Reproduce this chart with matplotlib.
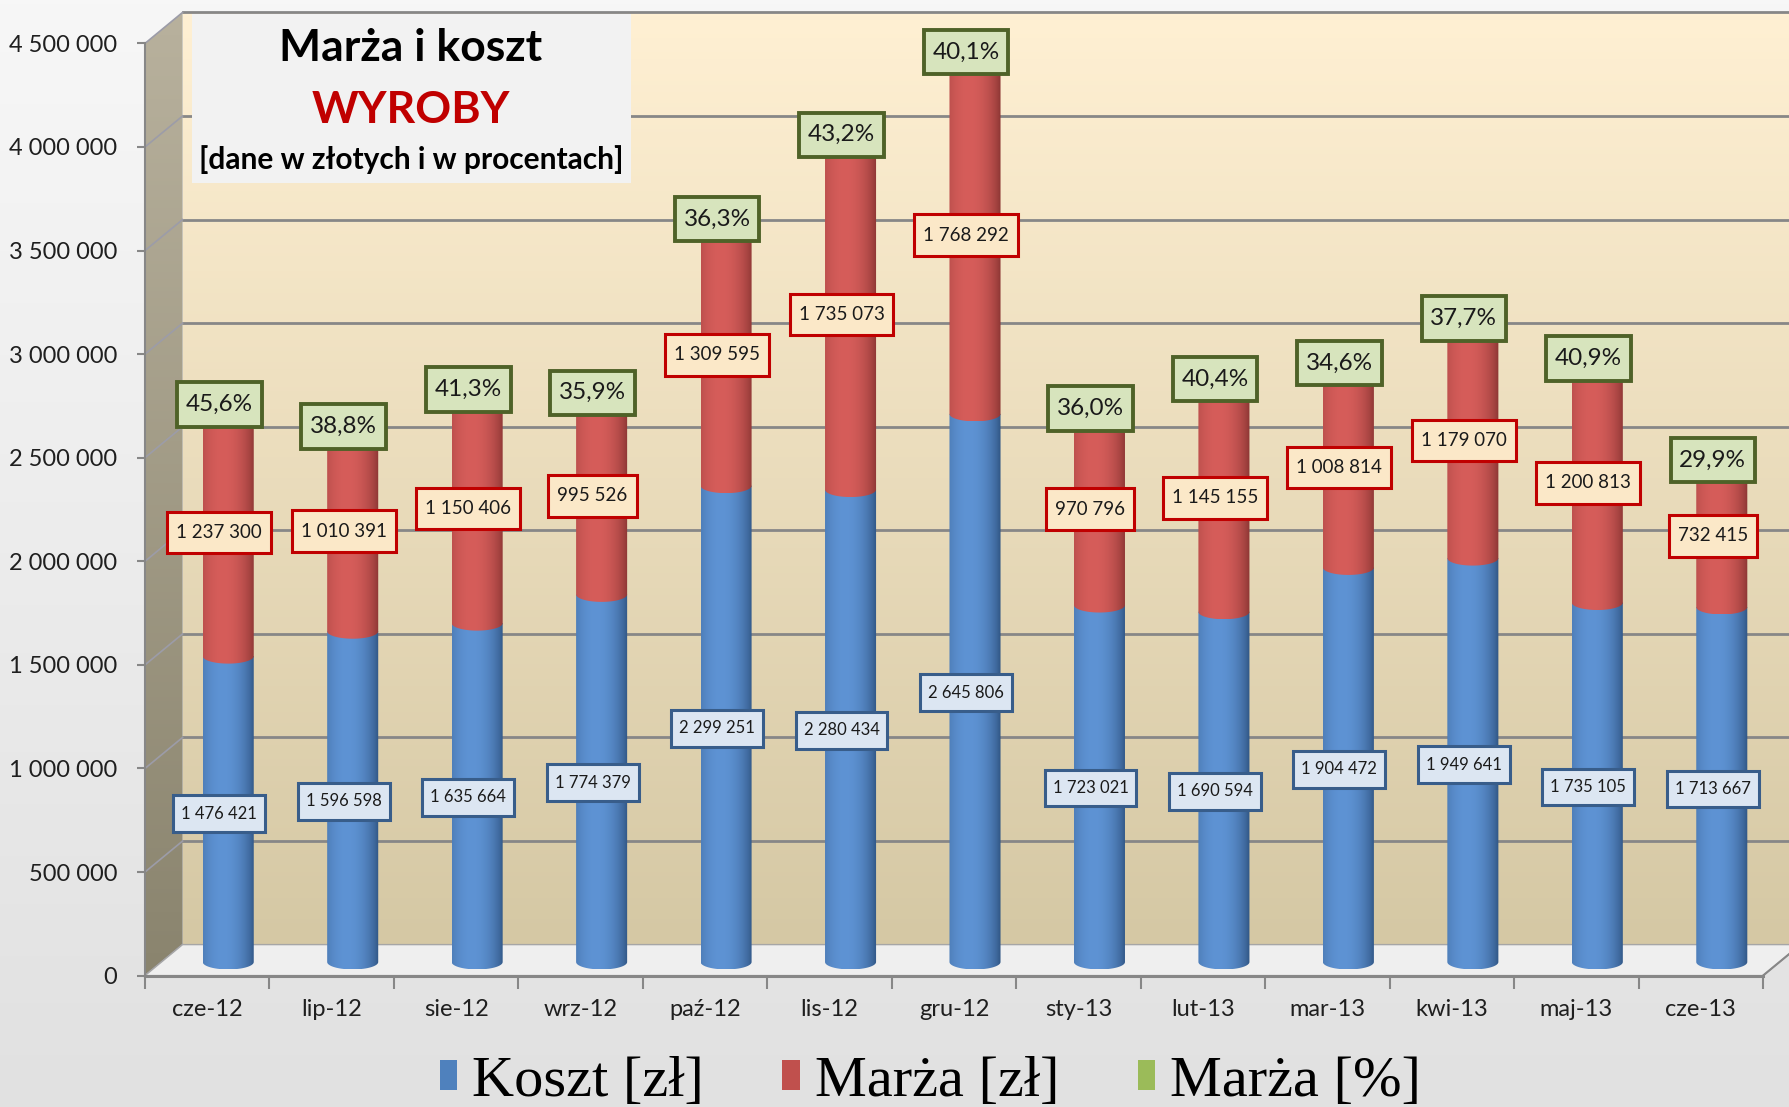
import numpy as np
import matplotlib
matplotlib.use("Agg")
import matplotlib.pyplot as plt
from matplotlib.patches import Rectangle, Polygon, PathPatch, Patch
from matplotlib.path import Path
from matplotlib.transforms import Affine2D
from matplotlib.colors import to_rgb

# data
months = ["cze-12", "lip-12", "sie-12", "wrz-12", "paź-12", "lis-12", "gru-12",
          "sty-13", "lut-13", "mar-13", "kwi-13", "maj-13", "cze-13"]
koszt = [1476421, 1596598, 1635664, 1774379, 2299251, 2280434, 2645806,
         1723021, 1690594, 1904472, 1949641, 1735105, 1713667]
marza = [1237300, 1010391, 1150406, 995526, 1309595, 1735073, 1768292,
         970796, 1145155, 1008814, 1179070, 1200813, 732415]
marza_pct = [45.6, 38.8, 41.3, 35.9, 36.3, 43.2, 40.1, 36.0, 40.4, 34.6, 37.7, 40.9, 29.9]
yticks = np.arange(0, 4500001, 500000)

plt.rcParams['font.family'] = ['Lato', 'DejaVu Sans']

W, H = 1789, 1107
fig = plt.figure(figsize=(W / 100, H / 100), dpi=100)


def vgrad(top, bottom, n=256):
    t = np.linspace(0, 1, n)[:, None, None]
    return np.array(to_rgb(top)) * (1 - t) + np.array(to_rgb(bottom)) * t


def hgrad(dark, light, n=64):
    t = np.linspace(0, 1, n)
    lvl = np.clip(1 - ((t - 0.38) / 0.62) ** 2, 0, 1) ** 0.8
    lvl = lvl[None, :, None]
    return np.array(to_rgb(dark)) * (1 - lvl) + np.array(to_rgb(light)) * lvl


def box(padx, pady):
    # rectangle box with separate horizontal / vertical padding
    def style(x0, y0, width, height, mutation_size):
        px, py = padx * mutation_size, pady * mutation_size
        return Path([(x0 - px, y0 - py), (x0 + width + px, y0 - py),
                     (x0 + width + px, y0 + height + py), (x0 - px, y0 + height + py),
                     (x0 - px, y0 - py)], closed=True)
    return style


def fmt(v):
    return f"{v:,}".replace(",", " ")


# background axes in pixel coordinates
bg = fig.add_axes([0, 0, 1, 1], zorder=0)
bg.set_xlim(0, W)
bg.set_ylim(0, H)
bg.axis("off")
bg.imshow(vgrad("#f7f7f7", "#e1e1e1"), extent=[0, W, 0, H], aspect="auto", zorder=0)

# main axes = front face of the 3d box
ax = fig.add_axes([145 / W, (H - 975.6) / H, (1763 - 145) / W, (975.6 - 43.4) / H], zorder=1)
ax.set_xlim(-0.5, 12.5)
ax.set_ylim(0, 4500000)
ax.patch.set_alpha(0)

X0, Y0 = ax.transData.transform((-0.5, 0))
X1, Y1 = ax.transData.transform((12.5, 4500000))
dx, dy = 37.6, 31

# back wall
bg.imshow(vgrad("#fff0d3", "#d5c8a4"), extent=[X0 + dx, W + 5, Y0 + dy, Y1 + dy],
          aspect="auto", zorder=1)
# side wall
side = Polygon([(X0, Y0), (X0, Y1), (X0 + dx, Y1 + dy), (X0 + dx, Y0 + dy)],
               facecolor="none", edgecolor="none", zorder=3)
bg.add_patch(side)
im = bg.imshow(vgrad("#b8b19d", "#8a846e"), extent=[X0, X0 + dx, Y0, Y1 + dy],
               aspect="auto", zorder=3)
im.set_clip_path(side)

for v in yticks:
    yy = ax.transData.transform((0, v))[1]
    bg.plot([X0 + dx, W + 5], [yy + dy, yy + dy], color="#878787", lw=2, zorder=2)
    bg.plot([X0, X0 + dx], [yy, yy + dy], color="#9c9ca8", lw=1.2, zorder=4)

# floor
bg.add_patch(Polygon([(X0, Y0), (X1, Y0), (X1 + dx, Y0 + dy), (X0 + dx, Y0 + dy)],
                     facecolor="#efefef", edgecolor="#a6a6a6", lw=1, zorder=4))
bg.plot([X1, X1 + dx], [Y0, Y0 + dy], color="#878787", lw=1.5, zorder=5)

# title box
bg.add_patch(Rectangle((192, H - 183), 439, 169, facecolor="#f2f2f2", edgecolor="none", zorder=6))
fig.text(411 / W, 1 - 48 / H, "Marża i koszt", fontsize=32, weight="bold", ha="center", va="center")
fig.text(411 / W, 1 - 110 / H, "WYROBY", fontsize=32, weight="bold", color="#c00000",
         ha="center", va="center")
fig.text(411 / W, 1 - 160 / H, "[dane w złotych i w procentach]", fontsize=21.5, weight="bold",
         ha="center", va="center")

# cylinders
bar_tr = ax.transData + Affine2D().translate(21, 13.6)
lab_tr = ax.transData + Affine2D().translate(12, 9)
w = 0.205
b = 36000
th = np.linspace(0, np.pi, 40)
blue_g = hgrad("#2f5482", "#5e93d4")
red_g = hgrad("#8a3533", "#d65d5a")

for i in range(len(months)):
    segs = [(0, koszt[i], blue_g), (koszt[i], koszt[i] + marza[i], red_g)]
    for y0, y1, g in segs:
        arc = np.column_stack([i + w * np.cos(th), y0 - b * np.sin(th)])
        verts = [(i - w, y1), (i + w, y1)] + arc.tolist() + [(i - w, y1)]
        codes = [Path.MOVETO] + [Path.LINETO] * (len(verts) - 2) + [Path.CLOSEPOLY]
        pp = PathPatch(Path(verts, codes), transform=bar_tr, facecolor="none", edgecolor="none")
        ax.add_patch(pp)
        img = ax.imshow(g, extent=[i - w, i + w, y0 - b, y1], transform=bar_tr,
                        aspect="auto", zorder=3, interpolation="bilinear")
        img.set_clip_path(pp)

    ax.text(i, koszt[i] / 2, fmt(koszt[i]), transform=lab_tr, ha="center", va="center",
            fontsize=12, color="#1a1a1a", zorder=6,
            bbox=dict(boxstyle=box(0.48, 0.62), fc="#dce6f2", ec="#385d8a", lw=2.2))
    ax.text(i, koszt[i] + marza[i] / 2, fmt(marza[i]), transform=lab_tr, ha="center",
            va="center", fontsize=13.5, color="#1a1a1a", zorder=6,
            bbox=dict(boxstyle=box(0.48, 0.66), fc="#fbe8c8", ec="#c00000", lw=2.2))
    ax.text(i, koszt[i] + marza[i], f"{marza_pct[i]:.1f}%".replace(".", ","), transform=lab_tr,
            ha="center", va="center", fontsize=17.5, color="#1a1a1a", zorder=7,
            bbox=dict(boxstyle=box(0.36, 0.48), fc="#d7e4bd", ec="#4f6228", lw=2.8))

ax.set_xlim(-0.5, 12.5)
ax.set_ylim(0, 4500000)

# axes styling
for s in ["top", "right"]:
    ax.spines[s].set_visible(False)
ax.spines["left"].set_color("#878787")
ax.spines["left"].set_linewidth(1.5)
ax.spines["bottom"].set_color("#878787")
ax.spines["bottom"].set_linewidth(2.2)
ax.set_yticks(yticks, [fmt(v) for v in yticks])
ax.set_xticks(range(len(months)), months)
ax.set_xticks(np.arange(-0.5, 13, 1), minor=True)
ax.tick_params(axis="y", length=6, width=1.5, color="#878787", pad=14, labelsize=17,
               labelcolor="#1f1f1f")
ax.tick_params(axis="x", which="major", length=0, pad=17, labelsize=17, labelcolor="#1f1f1f")
ax.tick_params(axis="x", which="minor", length=9, width=1.5, color="#878787")

# legend
handles = [Patch(facecolor="#4f81bd"), Patch(facecolor="#c0504d"), Patch(facecolor="#9bbb59")]
fig.legend(handles, ["Koszt [zł]", "Marża [zł]", "Marża [%]"], loc="center",
           bbox_to_anchor=(0.52, 25 / H), ncol=3, frameon=False,
           prop={"family": ["Liberation Serif"], "size": 42},
           handlelength=0.3, handleheight=0.4, handletextpad=0.25, columnspacing=1.35)

fig.savefig("out.png", dpi=100)
